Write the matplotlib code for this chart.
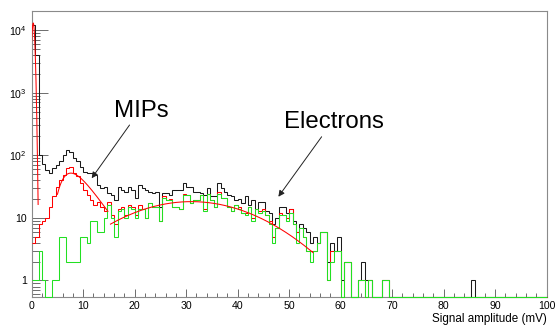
import numpy as np
import matplotlib
matplotlib.use("Agg")
import matplotlib.pyplot as plt
from matplotlib.ticker import FixedLocator, FixedFormatter, MultipleLocator, LogLocator, NullFormatter

plt.rcParams['font.family'] = ['Liberation Sans', 'DejaVu Sans']
plt.rcParams['mathtext.fontset'] = 'custom'
plt.rcParams['mathtext.rm'] = 'Liberation Sans'
plt.rcParams['mathtext.it'] = 'Liberation Sans:italic'
plt.rcParams['mathtext.bf'] = 'Liberation Sans:bold'

# ---------------- data ----------------
x_min, x_max, n_bins = 0.0, 100.0, 150

counts_all = [
    12000, 4000, 100, 74, 58, 52, 62, 70, 80, 100,
    121, 114, 90, 80, 66, 55, 52, 52, 48, 34,
    30, 31, 25, 23, 19, 31, 28, 26, 31, 28,
    21, 33, 30, 28, 26, 25, 26, 15, 25, 25,
    23, 28, 28, 28, 36, 31, 31, 26, 26, 25,
    23, 30, 22, 22, 36, 30, 26, 23, 22, 19,
    20, 17, 22, 16, 19, 14, 18, 18, 13, 12,
    8, 10, 15, 15, 12, 14, 9, 6, 8, 7,
    6, 4, 5, 4, 6, 6, 2, 4, 3, 5,
    1, 2, 2, 0, 0, 1, 2, 1, 1, 0,
    0, 0, 1, 1, 0, 0, 0, 0, 0, 0,
    0, 0, 0, 0, 0, 0, 0, 0, 0, 0,
    0, 0, 0, 0, 0, 0, 0, 0, 1, 0,
    0, 0, 0, 0, 0, 0, 0, 0, 0, 0,
    0, 0, 0, 0, 0, 0, 0, 0, 0, 0,
]

counts_mips = [
    4, 5, 8, 9, 10, 15, 22, 31, 40, 48,
    62, 66, 52, 46, 36, 28, 23, 19, 16, 18,
    15, 13, 18, 11, 8, 14, 15, 11, 16, 15,
    11, 16, 14, 10, 17, 15, 15, 9, 22, 19,
    20, 15, 15, 14, 24, 23, 17, 19, 19, 23,
    14, 24, 19, 15, 26, 21, 21, 15, 13, 16,
    15, 12, 12, 15, 10, 14, 13, 14, 11, 9,
    5, 7, 12, 11, 10, 14, 8, 6, 7, 5,
    3, 3, 3, 4, 6, 6, 1, 3, 3, 3,
    0, 2, 2, 0, 0, 1, 1, 0, 1, 0,
    0, 0, 1, 1, 0, 0, 0, 0, 0, 0,
    0, 0, 0, 0, 0, 0, 0, 0, 0, 0,
    0, 0, 0, 0, 0, 0, 0, 0, 0, 0,
    0, 0, 0, 0, 0, 0, 0, 0, 0, 0,
    0, 0, 0, 0, 0, 0, 0, 0, 0, 0,
]

counts_electrons = [
    1, 1, 3, 1, 0, 0, 1, 1, 5, 5,
    2, 2, 2, 2, 5, 5, 4, 9, 9, 6,
    6, 10, 16, 10, 5, 13, 14, 10, 15, 14,
    10, 14, 14, 10, 17, 15, 15, 9, 21, 19,
    19, 15, 15, 14, 23, 23, 17, 19, 19, 23,
    13, 24, 19, 15, 24, 21, 21, 15, 13, 16,
    14, 12, 11, 15, 9, 14, 12, 13, 11, 8,
    4, 7, 11, 11, 9, 12, 8, 4, 7, 5,
    3, 2, 3, 4, 6, 6, 1, 2, 3, 3,
    0, 2, 2, 0, 0, 1, 1, 0, 1, 0,
    0, 0, 1, 1, 0, 0, 0, 0, 0, 0,
    0, 0, 0, 0, 0, 0, 0, 0, 0, 0,
    0, 0, 0, 0, 0, 0, 0, 0, 0, 0,
    0, 0, 0, 0, 0, 0, 0, 0, 0, 0,
    0, 0, 0, 0, 0, 0, 0, 0, 0, 0,
]

# fit results (parameters of the drawn fit functions)
ped_amp, ped_mean, ped_sigma, ped_range = 1.3e4, 0.3, 0.26, (0.0, 1.25)
mip_amp, mip_mpv, mip_width, mip_range = 85.7, 7.6, 1.9, (5.0, 14.8)
ele_amp, ele_mean, ele_sigma, ele_range = 18.2, 31.0, 12.2, (15.3, 54.6)

y_ticks = [1, 10, 100, 1000, 10000]
y_tick_labels = ['1', '10', r'$10^{2}$', r'$10^{3}$', r'$10^{4}$']
x_label = 'Signal amplitude (mV)'

# ---------------- plot ----------------
y_lo, y_hi = 0.545, 20200

fig = plt.figure(figsize=(5.55, 3.25), dpi=100)
fig.patch.set_facecolor('white')
ax = fig.add_axes([0.0571, 0.0862, 0.9279, 0.8798])
ax.set_yscale('log')
ax.set_xlim(x_min, x_max)
ax.set_ylim(y_lo, y_hi)

edges = np.linspace(x_min, x_max, n_bins + 1)
lw = 0.75
for vals, col, z in [(counts_all, '#1a1a1a', 3),
                     (counts_mips, '#ff0000', 4),
                     (counts_electrons, '#22e022', 5)]:
    v = np.maximum(np.asarray(vals, dtype=float), y_lo)
    ax.stairs(v, edges, color=col, lw=lw, baseline=None, zorder=z, clip_on=False)

def gauss(x, a, m, s):
    return a * np.exp(-0.5 * ((x - m) / s) ** 2)

def landau_approx(x, a, mpv, w):
    lam = (x - mpv) / w
    return a * np.exp(-0.5 * (lam + np.exp(-lam)))

xp = np.linspace(*ped_range, 200)
ax.plot(xp, gauss(xp, ped_amp, ped_mean, ped_sigma), color='#ff0000', lw=lw, zorder=6)
xm = np.linspace(*mip_range, 200)
ax.plot(xm, landau_approx(xm, mip_amp, mip_mpv, mip_width), color='#ff0000', lw=lw, zorder=6)
xe = np.linspace(*ele_range, 300)
ax.plot(xe, gauss(xe, ele_amp, ele_mean, ele_sigma), color='#ff0000', lw=lw, zorder=6)

# axes styling (ROOT-like)
for sp in ax.spines.values():
    sp.set_color('#8a8a8a')
    sp.set_linewidth(0.8)

ax.yaxis.set_major_locator(FixedLocator(y_ticks))
ax.yaxis.set_major_formatter(FixedFormatter(y_tick_labels))
ax.yaxis.set_minor_locator(LogLocator(base=10, subs=np.arange(2, 10)))
ax.yaxis.set_minor_formatter(NullFormatter())
ax.xaxis.set_major_locator(MultipleLocator(10))
ax.xaxis.set_minor_locator(MultipleLocator(2))

ax.tick_params(axis='y', which='major', direction='in', length=11.5, width=0.6,
               color='#555555', labelsize=7.6, pad=3.5)
ax.tick_params(axis='y', which='minor', direction='in', length=5.8, width=0.6,
               color='#555555')
ax.tick_params(axis='x', which='major', direction='in', length=5.8, width=0.6,
               color='#555555', labelsize=7.6, pad=3.0)
ax.tick_params(axis='x', which='minor', direction='in', length=2.9, width=0.6,
               color='#555555')

ax.set_xlabel(x_label, fontsize=8.4, ha='right', va='baseline')
ax.xaxis.set_label_coords(1.0, -0.0864)

# annotations
arrow_kw = dict(arrowstyle='-|>', color='#222222', lw=0.7, mutation_scale=9,
                shrinkA=0, shrinkB=0)
ax.annotate('', xy=(11.65, 43), xytext=(19.0, 305), arrowprops=arrow_kw, zorder=7)
ax.annotate('', xy=(47.9, 21.8), xytext=(56.3, 198), arrowprops=arrow_kw, zorder=7)
ax.text(21.2, 405, 'MIPs', ha='center', va='baseline', fontsize=17.3, color='black')
ax.text(58.7, 270, 'Electrons', ha='center', va='baseline', fontsize=17.3, color='black')

fig.savefig('out.png', dpi=100)
